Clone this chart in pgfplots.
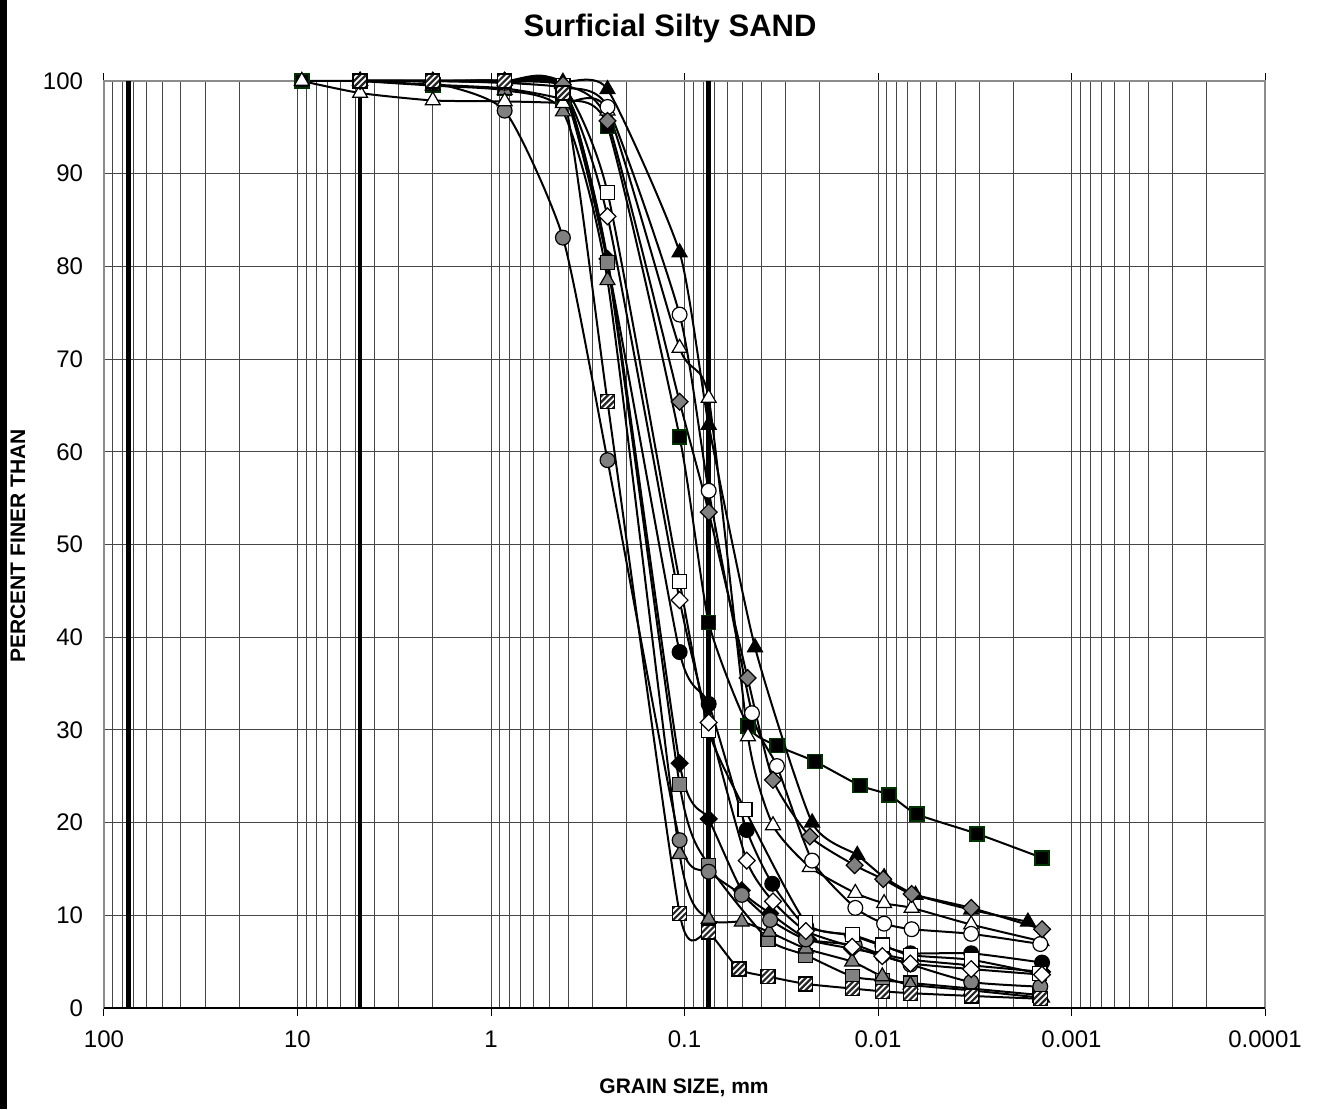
\documentclass[border=0pt]{standalone}
\usepackage{fontspec}
\setmainfont{Liberation Sans}
\usepackage{pgfplots}
\pgfplotsset{compat=1.18}

\definecolor{mgray}{RGB}{128,128,128}
\definecolor{dgreen}{RGB}{0,51,0}
\definecolor{gridc}{RGB}{70,70,70}

% square marker with wide diagonal stripes
\pgfdeclareplotmark{hatchsq}{%
  \pgfpathrectangle{\pgfqpoint{-\pgfplotmarksize}{-\pgfplotmarksize}}{\pgfqpoint{2\pgfplotmarksize}{2\pgfplotmarksize}}%
  \pgfusepath{fill}%
  \begin{pgfscope}%
    \pgfpathrectangle{\pgfqpoint{-\pgfplotmarksize}{-\pgfplotmarksize}}{\pgfqpoint{2\pgfplotmarksize}{2\pgfplotmarksize}}%
    \pgfusepath{clip}%
    \pgfsetlinewidth{1.1pt}%
    \pgfsetstrokecolor{black!85}%
    \pgfpathmoveto{\pgfqpoint{-5pt}{-11pt}}\pgfpathlineto{\pgfqpoint{5pt}{-1pt}}%
    \pgfpathmoveto{\pgfqpoint{-5pt}{-8pt}}\pgfpathlineto{\pgfqpoint{5pt}{2pt}}%
    \pgfpathmoveto{\pgfqpoint{-5pt}{-5pt}}\pgfpathlineto{\pgfqpoint{5pt}{5pt}}%
    \pgfpathmoveto{\pgfqpoint{-5pt}{-2pt}}\pgfpathlineto{\pgfqpoint{5pt}{8pt}}%
    \pgfpathmoveto{\pgfqpoint{-5pt}{1pt}}\pgfpathlineto{\pgfqpoint{5pt}{11pt}}%
    \pgfusepath{stroke}%
  \end{pgfscope}%
  \pgfpathrectangle{\pgfqpoint{-\pgfplotmarksize}{-\pgfplotmarksize}}{\pgfqpoint{2\pgfplotmarksize}{2\pgfplotmarksize}}%
  \pgfusepath{stroke}%
}

% diamond as wide as it is tall
\pgfdeclareplotmark{rdiam}{%
  \pgfpathmoveto{\pgfqpoint{0pt}{\pgfplotmarksize}}%
  \pgfpathlineto{\pgfqpoint{\pgfplotmarksize}{0pt}}%
  \pgfpathlineto{\pgfqpoint{0pt}{-\pgfplotmarksize}}%
  \pgfpathlineto{\pgfqpoint{-\pgfplotmarksize}{0pt}}%
  \pgfpathclose
  \pgfusepathqfillstroke
}

\pgfplotsset{
  gs/.style={black, line width=1pt, smooth, tension=0.35},
}

\begin{document}
\begin{tikzpicture}
\useasboundingbox (-52pt,-50.5pt) rectangle (608pt,504pt);
\fill[black] (-52pt,-50.5pt) rectangle (-48.5pt,504pt);

\begin{axis}[
    scale only axis,
    width=580.5pt, height=463.5pt,
    xmode=log, x dir=reverse,
    xmin=0.0001, xmax=100,
    ymin=0, ymax=100,
    xtick={0.0001,0.001,0.01,0.1,1,10,100},
    xticklabels={0.0001,0.001,0.01,0.1,1,10,100},
    ytick={0,10,...,100},
    /pgf/number format/assume math mode=true,
    tick label style={font=\fontsize{12}{14}\selectfont},
    xticklabel style={yshift=-4pt},
    yticklabel style={xshift=-3pt},
    tick align=outside,
    major tick length=4pt,
    minor tick length=0pt,
    ytick style={draw=none},
    xtick style={black, line width=0.5pt},
    grid=both,
    major grid style={gridc, line width=0.5pt},
    minor grid style={gridc, line width=0.5pt},
    axis line style={black!45, line width=0.8pt},
    clip=false,
]
% sieve boundary lines
\addplot[black, line width=2.4pt] coordinates {(75,0) (75,100)};
\addplot[black, line width=2.4pt] coordinates {(4.75,0) (4.75,100)};
\addplot[black, line width=2.4pt] coordinates {(0.075,0) (0.075,100)};

% green-edged black square
\addplot[gs, mark=square*, mark size=3.5pt, mark options={solid, fill=black, draw=dgreen, line width=0.8pt}] coordinates {
 (9.5,100) (4.75,100) (2,99.6) (0.85,99.2) (0.425,98) (0.25,95.1) (0.106,61.6) (0.075,41.6)
 (0.047,30.4) (0.0333,28.3) (0.0212,26.6) (0.0124,24.0) (0.00877,23.0) (0.00629,20.9) (0.00308,18.8) (0.00142,16.2)
};
% black circle
\addplot[gs, mark=*, mark size=3.7pt, mark options={solid, fill=black, draw=black, line width=0.6pt}] coordinates {
 (4.75,100) (2,100) (0.85,99.8) (0.425,99) (0.25,80.4) (0.106,38.4) (0.075,32.8) (0.0477,19.2) (0.0352,13.4)
 (0.0235,8.8) (0.0136,7.8) (0.0095,6.7) (0.0068,5.9) (0.0033,5.9) (0.00142,4.9)
};
% black diamond
\addplot[gs, mark=rdiam, mark size=4.2pt, mark options={solid, fill=black, draw=black, line width=0.6pt}] coordinates {
 (4.75,100) (2,100) (0.85,100) (0.425,99.3) (0.25,80.8) (0.106,26.4) (0.075,20.4) (0.0506,12.7) (0.0361,10.2)
 (0.023,7.4) (0.0136,6.4) (0.0095,5.8) (0.0068,5.2) (0.0033,4.6) (0.00142,3.9)
};
% gray square
\addplot[gs, mark=square*, mark size=3.5pt, mark options={solid, fill=mgray, draw=black, line width=0.6pt}] coordinates {
 (4.75,100) (2,100) (0.85,100) (0.425,99.5) (0.25,80.4) (0.106,24.1) (0.075,15.4) (0.037,7.4)
 (0.0236,5.7) (0.0136,3.4) (0.0095,3.0) (0.0068,2.7) (0.0033,2.1) (0.00146,1.4)
};
% gray triangle
\addplot[gs, mark=triangle*, mark size=4.3pt, mark options={solid, fill=mgray, draw=black, line width=0.6pt}] coordinates {
 (4.75,100) (2,99.5) (0.85,99) (0.425,96.7) (0.25,78.5) (0.106,16.6) (0.075,9.6) (0.0506,9.3) (0.0365,8.2)
 (0.0236,6.4) (0.0136,5.0) (0.0095,3.4) (0.0068,2.5) (0.0033,1.9) (0.00142,1.1)
};
% gray circle
\addplot[gs, mark=*, mark size=3.7pt, mark options={solid, fill=mgray, draw=black, line width=0.6pt}] coordinates {
 (4.75,100) (2,99.8) (0.85,96.8) (0.425,83.1) (0.25,59.1) (0.106,18.1) (0.075,14.7) (0.0506,12.2) (0.0361,9.5)
 (0.0236,7.4) (0.0132,6.8) (0.0095,5.7) (0.0068,4.7) (0.0033,2.8) (0.00145,2.3)
};
% white square
\addplot[gs, mark=square*, mark size=3.5pt, mark options={solid, fill=white, draw=black, line width=0.6pt}] coordinates {
 (4.75,100) (2,100) (0.85,100) (0.425,99.5) (0.25,88.0) (0.106,46.0) (0.075,29.9) (0.0487,21.4)
 (0.0236,9.2) (0.0136,7.9) (0.0095,6.8) (0.0068,5.7) (0.0033,5.2) (0.00146,3.7)
};
% white diamond
\addplot[gs, mark=rdiam, mark size=4.2pt, mark options={solid, fill=white, draw=black, line width=0.6pt}] coordinates {
 (4.75,100) (2,100) (0.85,100) (0.425,99.2) (0.25,85.4) (0.106,44.0) (0.075,30.8) (0.0477,15.9) (0.0349,11.5)
 (0.0236,8.3) (0.0136,6.6) (0.0095,5.6) (0.0068,4.8) (0.0033,4.2) (0.00142,3.6)
};
% white triangle
\addplot[gs, mark=triangle*, mark size=4.3pt, mark options={solid, fill=white, draw=black, line width=0.6pt}] coordinates {
 (9.5,100) (4.75,98.7) (2,97.9) (0.85,97.8) (0.425,97.6) (0.25,96.8) (0.106,71.2) (0.075,65.8) (0.047,29.3)
 (0.0349,19.7) (0.0225,15.2) (0.0131,12.4) (0.0093,11.3) (0.0067,10.8) (0.0033,9.0) (0.00143,7.2)
};
% white circle
\addplot[gs, mark=*, mark size=3.7pt, mark options={solid, fill=white, draw=black, line width=0.6pt}] coordinates {
 (4.75,100) (2,100) (0.85,99.8) (0.425,99.3) (0.25,97.2) (0.106,74.8) (0.075,55.8) (0.0448,31.8) (0.0333,26.1)
 (0.0219,15.9) (0.0131,10.8) (0.0093,9.1) (0.0067,8.5) (0.0033,8.0) (0.00145,6.9)
};
% black triangle
\addplot[gs, mark=triangle*, mark size=4.3pt, mark options={solid, fill=black, draw=black, line width=0.6pt}] coordinates {
 (4.75,100) (2,100) (0.85,100) (0.425,99.9) (0.25,99.1) (0.106,81.5) (0.075,62.9) (0.0432,38.9)
 (0.0219,20.0) (0.0128,16.5) (0.0093,14.1) (0.0064,12.2) (0.0033,10.6) (0.00168,9.3)
};
% gray diamond
\addplot[gs, mark=rdiam, mark size=4.2pt, mark options={solid, fill=mgray, draw=black, line width=0.6pt}] coordinates {
 (4.75,100) (2,100) (0.85,100) (0.425,99.6) (0.25,95.7) (0.106,65.4) (0.075,53.5) (0.0472,35.6) (0.0349,24.6)
 (0.0225,18.5) (0.0132,15.4) (0.0094,13.9) (0.0067,12.3) (0.0033,10.8) (0.00142,8.5)
};
% hatched square
\addplot[gs, mark=hatchsq, mark size=3.5pt, mark options={solid, fill=white, draw=black, line width=0.6pt}] coordinates {
 (4.75,100) (2,100) (0.85,100) (0.425,98.7) (0.25,65.4) (0.106,10.2) (0.075,8.2) (0.0523,4.2) (0.037,3.4)
 (0.0236,2.6) (0.0136,2.1) (0.0095,1.8) (0.0068,1.6) (0.0033,1.3) (0.00145,1.0)
};

\draw[black, line width=0.8pt] (rel axis cs:0,0) -- (rel axis cs:1,0);
\end{axis}

\node[font=\fontsize{15.5}{18}\selectfont\bfseries] at (283pt,490pt) {Surficial Silty SAND};
\node[font=\fontsize{10.5}{12}\selectfont\bfseries] at (290pt,-40pt) {GRAIN SIZE, mm};
\node[font=\fontsize{10.5}{12}\selectfont\bfseries, rotate=90] at (-43pt,231pt) {PERCENT FINER THAN};
\end{tikzpicture}
\end{document}
